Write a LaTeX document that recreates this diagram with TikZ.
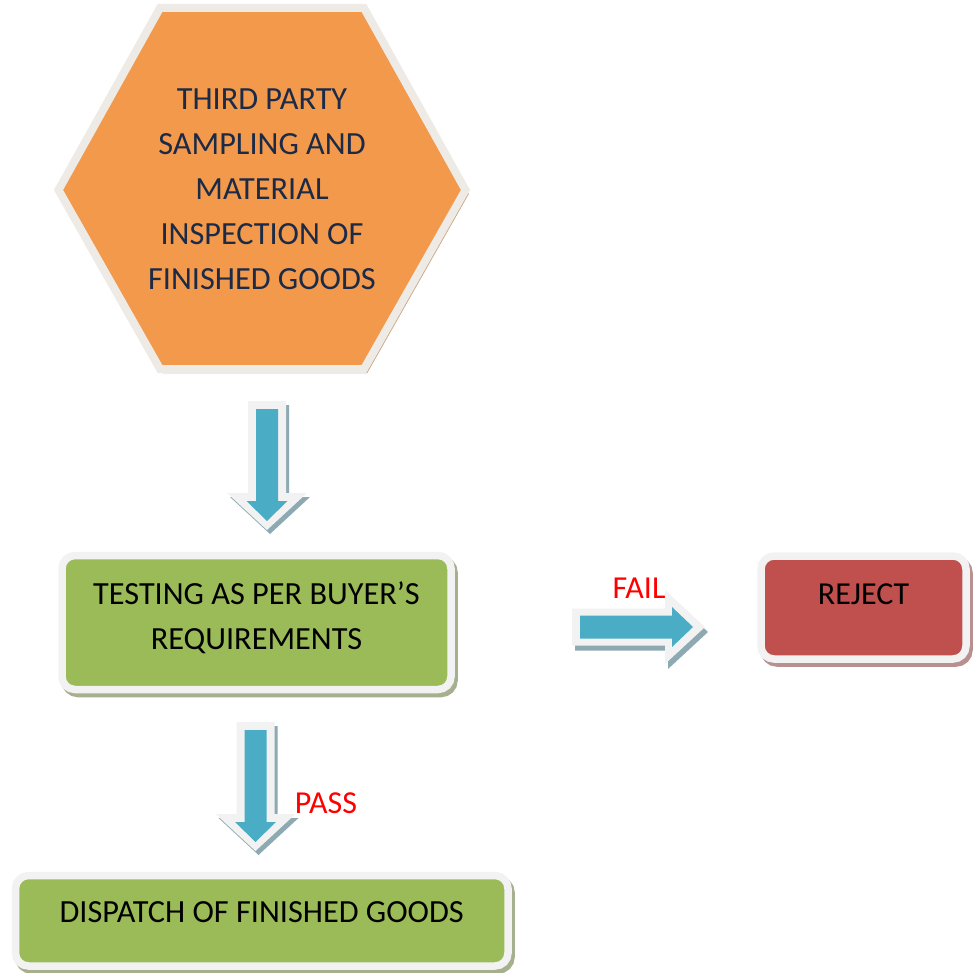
\documentclass[tikz,border=0pt]{standalone}
\usepackage{fontspec}
\setmainfont{Carlito}
\usetikzlibrary{shapes.geometric}
\definecolor{hexfill}{HTML}{F2994B}
\definecolor{hexrim}{HTML}{EEEAE6}
\definecolor{hexshadow}{HTML}{C9A37E}
\definecolor{navy}{HTML}{1B2A47}
\definecolor{greenfill}{HTML}{9BBB59}
\definecolor{greenshadow}{HTML}{A7B08E}
\definecolor{redfill}{HTML}{C0504D}
\definecolor{redshadow}{HTML}{B99090}
\definecolor{rim}{HTML}{F2F2F2}
\definecolor{arrowfill}{HTML}{4BACC6}
\definecolor{arrowshadow}{HTML}{8DA9B2}
\definecolor{labelred}{HTML}{FF0000}
\begin{document}
\begin{tikzpicture}[x=1pt,y=-1pt,
  shadowed/.style={preaction={draw=#1,fill=#1,transform canvas={shift={(3pt,-4pt)}}}},
  box/.style={rounded corners=13pt, draw=rim, line width=7.5pt, inner sep=0pt},
  bigtext/.style={font=\fontsize{32.3}{45}\selectfont, align=center, inner sep=0pt},
  smalltext/.style={font=\fontsize{32}{40}\selectfont, align=center, inner sep=0pt},
  downarr/.pic={
    \begin{scope}[shift={(3,4)}]
      \fill[arrowshadow] (-19,0) -- (19,0) -- (19,92) -- (40,92) -- (0,129) -- (-40,92) -- (-19,92) -- cycle;
    \end{scope}
    \fill[rim] (-19,0) -- (19,0) -- (19,92) -- (40,92) -- (0,129) -- (-40,92) -- (-19,92) -- cycle;
    \fill[arrowfill] (-11,8) -- (11,8) -- (11,100) -- (20.5,100) -- (0,120) -- (-20.5,100) -- (-11,100) -- cycle;
  },
  rightarr/.pic={
    \begin{scope}[shift={(3,5)}]
      \fill[arrowshadow] (0,-18.5) -- (93,-18.5) -- (93,-37) -- (133,0) -- (93,37) -- (93,18.5) -- (0,18.5) -- cycle;
    \end{scope}
    \fill[rim] (0,-18.5) -- (93,-18.5) -- (93,-37) -- (133,0) -- (93,37) -- (93,18.5) -- (0,18.5) -- cycle;
    \fill[arrowfill] (8,-11.5) -- (100,-11.5) -- (100,-20) -- (121,0) -- (100,20) -- (100,11.5) -- (8,11.5) -- cycle;
  }]
\useasboundingbox (0,0) rectangle (976,973);

% hexagon
\coordinate (h1) at (160,8);
\coordinate (h2) at (364,8);
\coordinate (h3) at (465.5,190);
\coordinate (h4) at (364,369);
\coordinate (h5) at (160,369);
\coordinate (h6) at (58.5,190);
\draw[hexrim, line width=8pt, fill=hexfill, shadowed=hexshadow]
  (h1) -- (h2) -- (h3) -- (h4) -- (h5) -- (h6) -- cycle;
\node[bigtext, text=navy] (hex) at (262,189)
  {THIRD PARTY\\SAMPLING AND\\MATERIAL\\INSPECTION OF\\FINISHED GOODS};

% boxes
\node[box, fill=greenfill, shadowed=greenshadow, minimum width=389pt, minimum height=134pt] (test) at (256.5,622.5) {};
\node[bigtext] (testtxt) at ([yshift=5pt]test.center) {TESTING AS PER BUYER’S\\REQUIREMENTS};

\node[box, fill=redfill, shadowed=redshadow, minimum width=205pt, minimum height=103pt] (reject) at (863.5,607.5) {};
\node[smalltext] (rejecttxt) at ([yshift=13.5pt]reject.center) {REJECT};

\node[box, fill=greenfill, shadowed=greenshadow, minimum width=492.5pt, minimum height=90.5pt] (dispatch) at (261.75,920.75) {};
\node[bigtext] (dispatchtxt) at ([yshift=8.5pt]dispatch.center) {DISPATCH OF FINISHED GOODS};

% arrows
\pic at (267,401) {downarr};
\pic at (572,627) {rightarr};
\pic at (255.5,722) {downarr};

\node[smalltext, text=labelred] (fail) at (639,588) {FAIL};
\node[smalltext, text=labelred] (pass) at (326,803) {PASS};
\end{tikzpicture}
\end{document}
